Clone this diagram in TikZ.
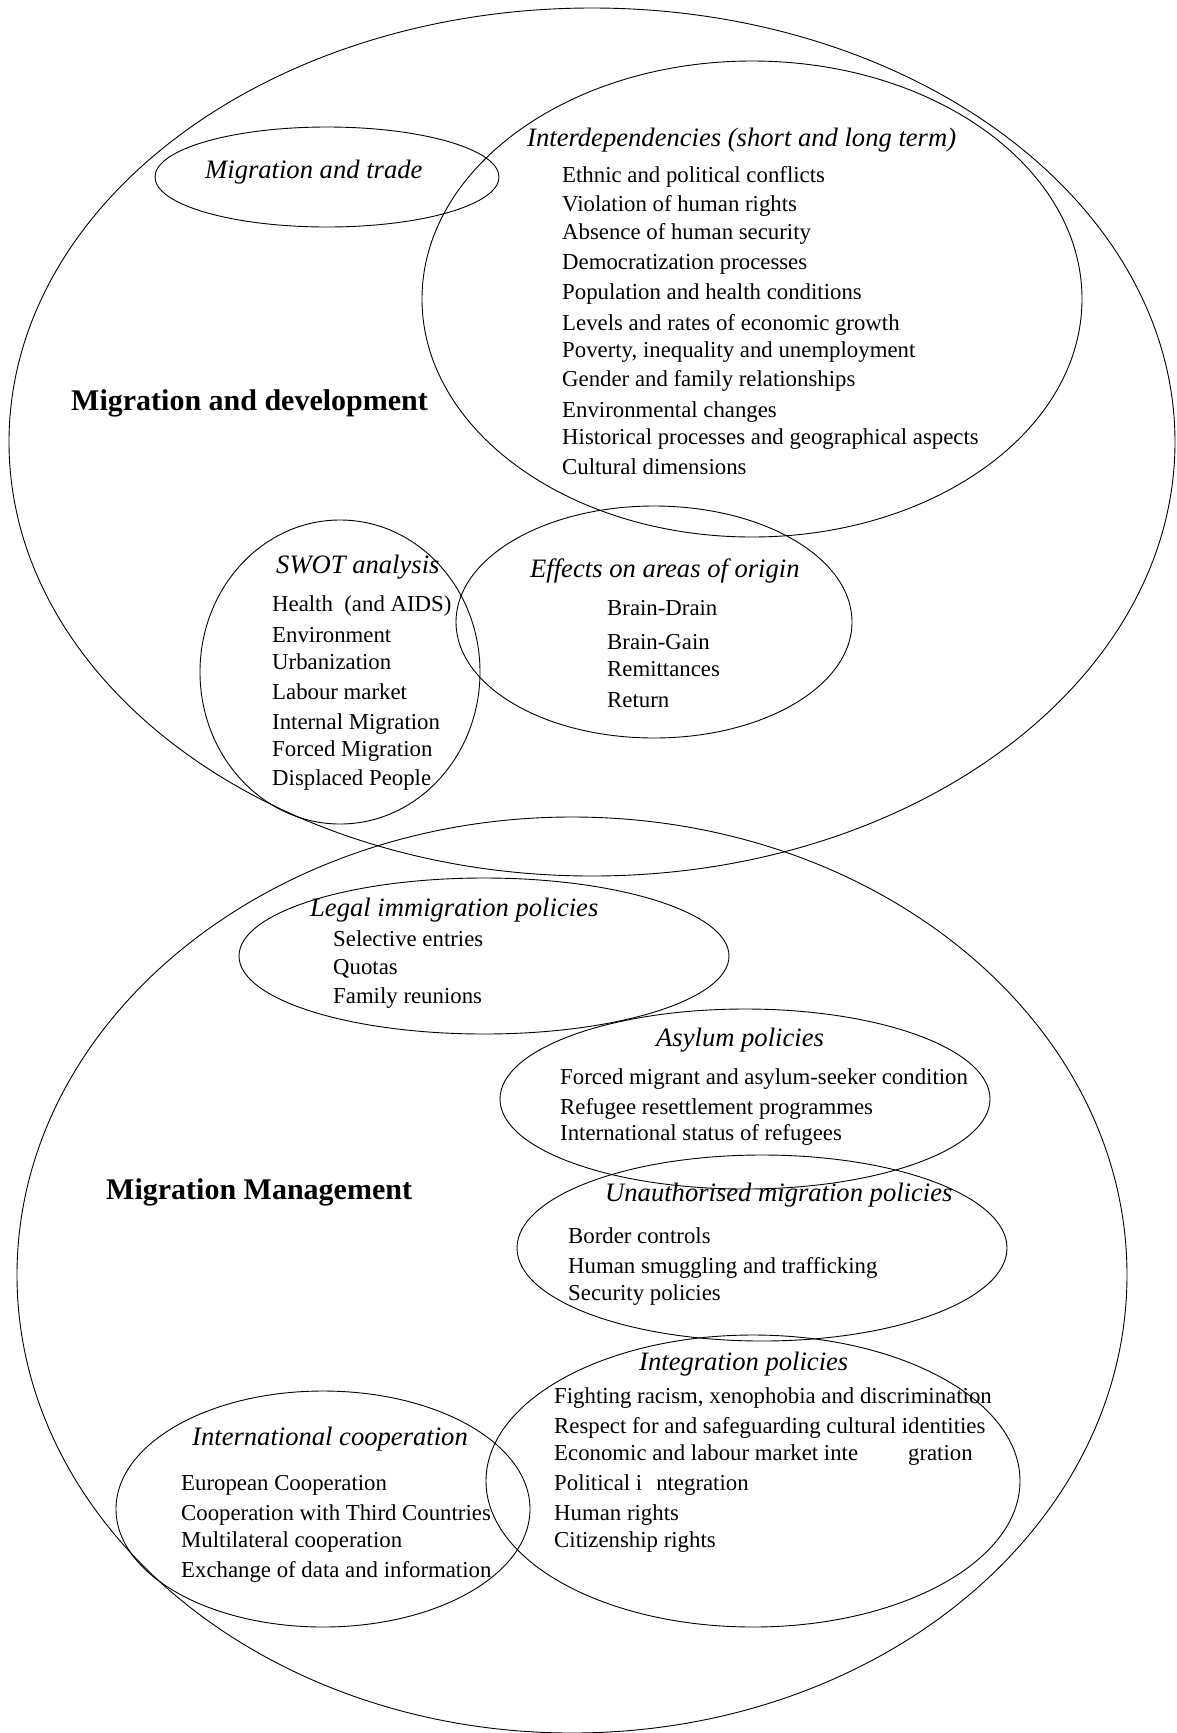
\documentclass[tikz,border=0pt]{standalone}
\usepackage{fontspec}
\setmainfont{Liberation Serif}
\usetikzlibrary{shapes.geometric}
\tikzset{
  venn/.style={draw, ellipse, line width=0.9pt, inner sep=0pt, outer sep=0pt},
  body/.style={anchor=base west, inner sep=0pt, font=\fontsize{22.8}{27}\selectfont},
  head/.style={anchor=base west, inner sep=0pt, font=\fontsize{26.6}{32}\selectfont\itshape},
  title/.style={anchor=base west, inner sep=0pt, font=\fontsize{30}{36}\selectfont\bfseries},
}
\begin{document}
\begin{tikzpicture}[x=1pt,y=-1pt]
\useasboundingbox (0,0) rectangle (1176,1733);
% ellipses
\node[venn, minimum width=1166pt, minimum height=868pt] (dev) at (592,442) {};
\node[venn, minimum width=1110pt, minimum height=916pt] (mgmt) at (572,1275) {};
\node[venn, minimum width=344pt, minimum height=100pt] (trade) at (327,177) {};
\node[venn, minimum width=660pt, minimum height=476pt] (interdep) at (752,299) {};
\node[venn, minimum width=280pt, minimum height=304pt] (swot) at (340,672) {};
\node[venn, minimum width=396pt, minimum height=232pt] (effects) at (654,622) {};
\node[venn, minimum width=490pt, minimum height=156pt] (legal) at (484,956) {};
\node[venn, minimum width=490pt, minimum height=180pt] (asylum) at (745,1099) {};
\node[venn, minimum width=490pt, minimum height=186pt] (unauth) at (762,1248) {};
\node[venn, minimum width=534pt, minimum height=292pt] (integ) at (753,1481) {};
\node[venn, minimum width=414pt, minimum height=236pt] (intl) at (323,1509) {};
% titles
\node[title] (tdev) at (71,410) {Migration and development};
\node[title] (tmgmt) at (106,1199) {Migration Management};
% headings
\node[head] (htrade) at (205,178) {Migration and trade};
\node[head] (hinter) at (527,146) {Interdependencies (short and long term)};
\node[head] (hswot) at (276,573) {SWOT analysis};
\node[head] (heff) at (530,577) {Effects on areas of origin};
\node[head] (hlegal) at (310,916) {Legal immigration policies};
\node[head] (hasyl) at (656,1046) {Asylum policies};
\node[head] (hunauth) at (605,1201) {Unauthorised migration policies};
\node[head] (hinteg) at (639,1370) {Integration policies};
\node[head] (hintl) at (192,1445) {International cooperation};
% lists
\foreach \y/\t [count=\k] in {175/{Ethnic and political conflicts},204/{Violation of human rights},232/{Absence of human security},262/{Democratization processes},292/{Population and health conditions},323/{Levels and rates of economic growth},350/{Poverty, inequality and unemployment},379/{Gender and family relationships},410/{Environmental changes},437/{Historical processes and geographical aspects},467/{Cultural dimensions}}
  \node[body] (li\k) at (562,\y+7) {\t};
\foreach \y/\t [count=\k] in {604/{Health\ \ (and AIDS)},635/{Environment},662/{Urbanization},692/{Labour market},722/{Internal Migration},749/{Forced Migration},778/{Displaced People}}
  \node[body] (ls\k) at (272,\y+7) {\t};
\foreach \y/\t [count=\k] in {608/{Brain-Drain},642/{Brain-Gain},669/{Remittances},700/{Return}}
  \node[body] (le\k) at (607,\y+7) {\t};
\foreach \y/\t [count=\k] in {939/{Selective entries},967/{Quotas},996/{Family reunions}}
  \node[body] (ll\k) at (333,\y+7) {\t};
\foreach \y/\t [count=\k] in {1077/{Forced migrant and asylum-seeker condition},1107/{Refugee resettlement programmes},1133/{International status of refugees}}
  \node[body] (la\k) at (560,\y+7) {\t};
\foreach \y/\t [count=\k] in {1236/{Border controls},1266/{Human smuggling and trafficking},1293/{Security policies}}
  \node[body] (lu\k) at (568,\y+7) {\t};
\foreach \y/\t [count=\k] in {1396/{Fighting racism, xenophobia and discrimination},1426/{Respect for and safeguarding cultural identities},1453/{Economic and labour market inte\hspace{50pt}gration},1483/{Political i\hspace{14pt}ntegration},1513/{Human rights},1540/{Citizenship rights}}
  \node[body] (lg\k) at (554,\y+7) {\t};
\foreach \y/\t [count=\k] in {1483/{European Cooperation},1513/{Cooperation with Third Countries},1540/{Multilateral cooperation},1570/{Exchange of data and information}}
  \node[body] (lc\k) at (181,\y+7) {\t};
\end{tikzpicture}
\end{document}
